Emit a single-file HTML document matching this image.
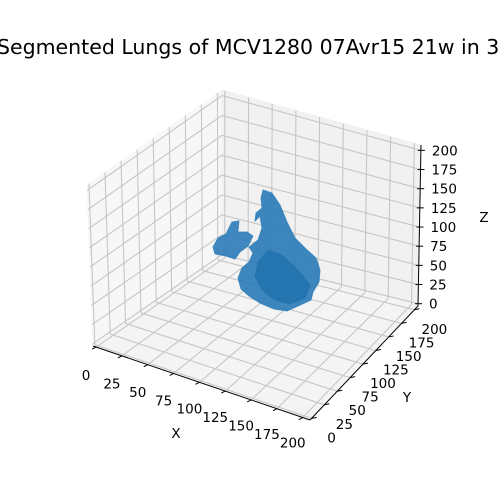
<!DOCTYPE html>
<html><head><meta charset="utf-8"><style>
html,body{margin:0;padding:0;background:#fff;}
svg{display:block;font-family:"DejaVu Sans","Liberation Sans",sans-serif;}
</style></head><body>
<svg id="chart" width="500" height="500" viewBox="0 0 500 500" xmlns="http://www.w3.org/2000/svg">
<text x="256" y="54" font-size="20.5" text-anchor="middle" fill="#000">Segmented Lungs of MCV1280 07Avr15 21w in 3D</text>
<g id="panes"></g><g id="grid"></g><g id="blob"></g><g id="axes"></g>
</svg>
<script>
const xTicks=[0,25,50,75,100,125,150,175,200];
const yTicks=[0,25,50,75,100,125,150,175,200];
const zTicks=[0,25,50,75,100,125,150,175,200];
const xLabels=["0","25","50","75","100","125","150","175","200"];
const yLabels=["0","25","50","75","100","125","150","175","200"];
const zLabels=["0","25","50","75","100","125","150","175","200"];
const LIM=[-3,207];
const C={ "000":[93,346],"100":[310,420],"110":[418,306],"010":[222,257],
 "001":[87,185],"101":[312,246],"111":[421,145],"011":[222,90]};
function P(x,y,z){
  const u=(x-LIM[0])/(LIM[1]-LIM[0]),v=(y-LIM[0])/(LIM[1]-LIM[0]),w=(z-LIM[0])/(LIM[1]-LIM[0]);
  let r=[0,0];
  for(const a of [0,1])for(const b of [0,1])for(const c of [0,1]){
    const k=(a?u:1-u)*(b?v:1-v)*(c?w:1-w);const p=C[""+a+b+c];
    r[0]+=k*p[0];r[1]+=k*p[1];}
  return r;
}
const NS="http://www.w3.org/2000/svg";
function mk(tag,attrs,parent){const e=document.createElementNS(NS,tag);for(const k in attrs)e.setAttribute(k,attrs[k]);parent.appendChild(e);return e;}
const panes=document.getElementById('panes'),grid=document.getElementById('grid'),axes=document.getElementById('axes'),blob=document.getElementById('blob');
const L=LIM[0],H=LIM[1];
function poly(pts){return pts.map(p=>P(...p).join(',')).join(' ');}
let e;
e=mk('polygon',{points:poly([[L,L,L],[L,H,L],[L,H,H],[L,L,H]]),fill:'#f7f7f7',stroke:'#f7f7f7'},panes);

e=mk('polygon',{points:poly([[L,H,L],[H,H,L],[H,H,H],[L,H,H]]),fill:'#f1f1f1',stroke:'#f1f1f1'},panes);

e=mk('polygon',{points:poly([[L,L,L],[H,L,L],[H,H,L],[L,H,L]]),fill:'#f4f4f4',stroke:'#f4f4f4'},panes);

function gl(a,b){const p=P(...a),q=P(...b);
  const l=mk('line',{x1:p[0],y1:p[1],x2:q[0],y2:q[1],stroke:'#c6c6c6','stroke-width':1.1},grid);
  }
xTicks.forEach(t=>{gl([t,L,L],[t,H,L]);gl([t,H,L],[t,H,H]);});
yTicks.forEach(t=>{gl([L,t,L],[H,t,L]);gl([L,t,L],[L,t,H]);});
zTicks.forEach(t=>{gl([L,L,t],[L,H,t]);gl([L,H,t],[H,H,t]);});
function al(a,b,name){const p=P(...a),q=P(...b);const l=mk('line',{x1:p[0],y1:p[1],x2:q[0],y2:q[1],stroke:'#000','stroke-width':1},axes);
  }
al([L,L,L],[H,L,L],'x-axis-line');al([H,L,L],[H,H,L],'y-axis-line');al([H,H,L],[H,H,H],'z-axis-line');
function txt(x,y,s,name,anchor){const t=mk('text',{x:x,y:y,'font-size':13.5,'text-anchor':anchor||'middle',fill:'#000'},axes);t.textContent=s;
  }
xTicks.forEach((t,i)=>{const p=P(t,L,L);const l=mk('line',{x1:p[0],y1:p[1],x2:p[0]-4,y2:p[1]+2,stroke:'#000'},axes);
  
  txt(p[0]-10,p[1]+33-i*0.4,xLabels[i],'x-tick-label');});
yTicks.forEach((t,i)=>{const p=P(H,t,L);const l=mk('line',{x1:p[0],y1:p[1],x2:p[0]+5,y2:p[1]-1,stroke:'#000'},axes);
  
  txt(p[0]+20,p[1]+24,yLabels[i],'y-tick-label');});
zTicks.forEach((t,i)=>{const p=P(H,H,t);const l=mk('line',{x1:p[0]-3,y1:p[1],x2:p[0]+4,y2:p[1],stroke:'#000'},axes);
  
  txt(p[0]+11,p[1]+5,zLabels[i],'z-tick-label','start');});
txt(176,438,'X','x-axis-title');txt(407,402,'Y','y-axis-title');txt(484,222,'Z','z-axis-title');
const lobeRight=[[263,190],[272,193],[280,205],[287,222],[295,238],[306,249],[316,258],[320,270],[319,282],[313,292],[311,300],[298,306],[287,311],[274,309],[260,303],[249,296],[241,289],[238,278],[242,268],[249,262],[253,253],[249,247],[258,240],[262,228],[260,216],[255,221],[256,213],[262,208],[261,198]];
const lobeLeft=[[213,247],[218,238],[226,234],[232,222],[239,221],[238,232],[247,232],[253,236],[248,246],[240,252],[235,259],[226,256],[215,254]];
const darkCore=[[258,262],[268,250],[282,255],[298,270],[310,285],[305,298],[290,304],[275,300],[262,290],[255,276]];
function sp(pts,fill,op,name){const g=mk('polygon',{points:pts.map(p=>p.join(',')).join(' '),fill:fill,'fill-opacity':op,stroke:fill,'stroke-opacity':op*0.8},blob);
  }
sp(lobeLeft,'#2b7bb8',0.9,'left-lung-piece');
sp(lobeRight,'#2d7cb8',0.92,'right-lung-lobe');
sp(darkCore,'#1f72ad',0.8,'lung-dense-core');
</script>
</body></html>
